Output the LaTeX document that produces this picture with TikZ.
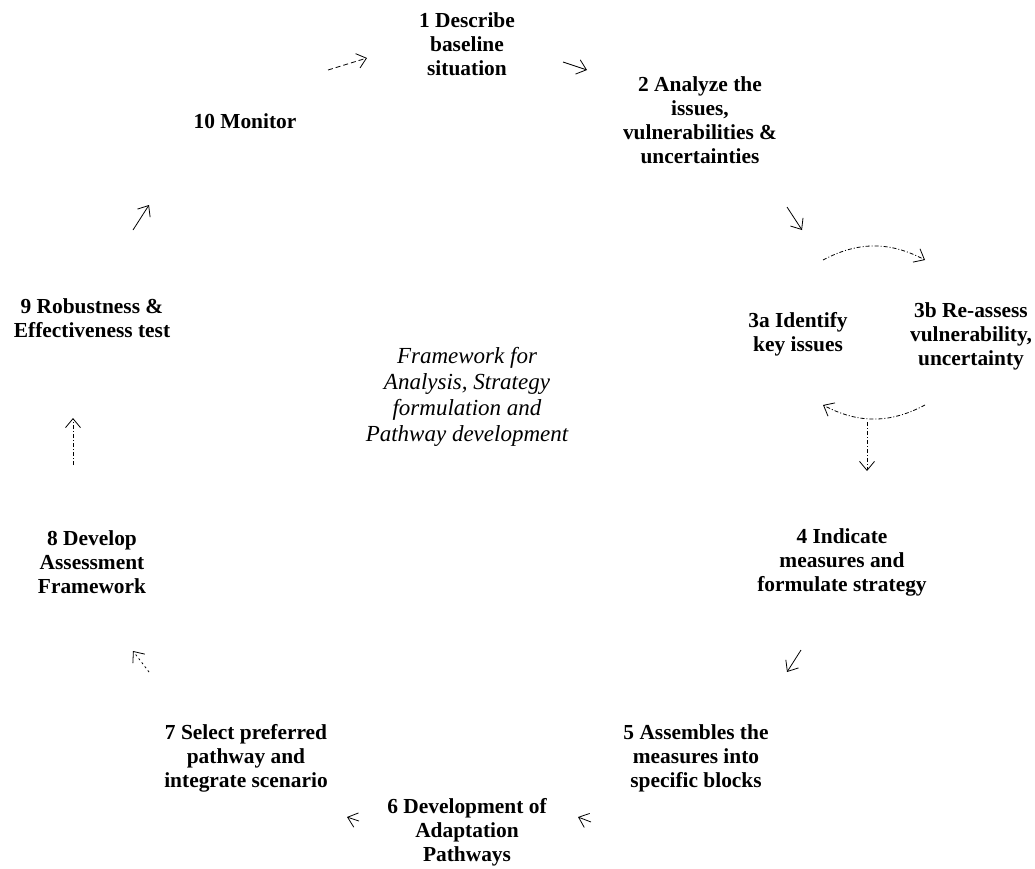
\documentclass[tikz,border=0pt]{standalone}
\usepackage{fontspec}
\setmainfont{Liberation Serif}
\usetikzlibrary{arrows.meta}
\begin{document}
\begin{tikzpicture}[x=1pt,y=-1pt,
  lbl/.style={font=\fontsize{21.4}{24}\selectfont\bfseries,align=center,inner sep=0pt},
  ctr/.style={font=\fontsize{23}{26}\selectfont\itshape,align=center,inner sep=0pt},
  arr/.style={line width=0.8pt,-{Straight Barb[length=9pt,width=15pt,line width=0.8pt]}},
  dd/.style={dash pattern=on 4pt off 2pt on 1pt off 2pt},
  dsh/.style={dash pattern=on 5pt off 3pt}]
\path[use as bounding box] (0,0) rectangle (1035,868);
\node[lbl] (n1) at (467,44) {1 Describe\\baseline\\situation};
\node[lbl] (n2) at (700,120) {2 Analyze the\\issues,\\vulnerabilities \&\\uncertainties};
\node[lbl] (n3a) at (798,334) {3a Identify\\key issues};
\node[lbl] (n3b) at (971,336) {3b Re-assess\\vulnerability,\\uncertainty};
\node[lbl] (n4) at (842,562) {4 Indicate\\measures and\\formulate strategy};
\node[lbl] (n5) at (696,758) {5 Assembles the\\measures into\\specific blocks};
\node[lbl] (n6) at (467,832) {6 Development of\\Adaptation\\Pathways};
\node[lbl] (n7) at (246,758) {7 Select preferred\\pathway and\\integrate scenario};
\node[lbl] (n8) at (92,562) {8 Develop\\Assessment\\Framework};
\node[lbl] (n9) at (92,318) {9 Robustness \&\\Effectiveness test};
\node[lbl] (n10) at (245,121) {10 Monitor};
\node[ctr] (c) at (467,397) {Framework for\\Analysis, Strategy\\formulation and\\Pathway development};
% arrow coordinates
\coordinate (a1s) at (328,70); \coordinate (a1e) at (367,58);
\coordinate (a2s) at (563,62); \coordinate (a2e) at (587,70);
\coordinate (a3s) at (787,207); \coordinate (a3e) at (802,230);
\coordinate (b1s) at (823,260); \coordinate (b1e) at (925,260);
\coordinate (b2s) at (925,405); \coordinate (b2e) at (823,405);
\coordinate (v1s) at (867,422); \coordinate (v1e) at (867,471);
\coordinate (a4s) at (801,650); \coordinate (a4e) at (787,672);
\coordinate (a5s) at (591,822); \coordinate (a5e) at (578,817);
\coordinate (a6s) at (359,821); \coordinate (a6e) at (347,817);
\coordinate (a7s) at (149,672); \coordinate (a7e) at (133,651);
\coordinate (a8s) at (73,465); \coordinate (a8e) at (73,418);
\coordinate (a9s) at (133,230); \coordinate (a9e) at (149,205);
\draw[arr,dsh] (a1s) -- (a1e);
\draw[arr] (a2s) -- (a2e);
\draw[arr] (a3s) -- (a3e);
\draw[arr,dd] (b1s) to[bend left=28] (b1e);
\draw[arr,dd] (b2s) to[bend left=28] (b2e);
\draw[arr,dd] (v1s) -- (v1e);
\draw[arr] (a4s) -- (a4e);
\draw[arr] (a5s) -- (a5e);
\draw[arr] (a6s) -- (a6e);
\draw[arr,dash pattern=on 2pt off 3pt] (a7s) -- (a7e);
\draw[arr,dd] (a8s) -- (a8e);
\draw[arr] (a9s) -- (a9e);
\end{tikzpicture}
\end{document}
